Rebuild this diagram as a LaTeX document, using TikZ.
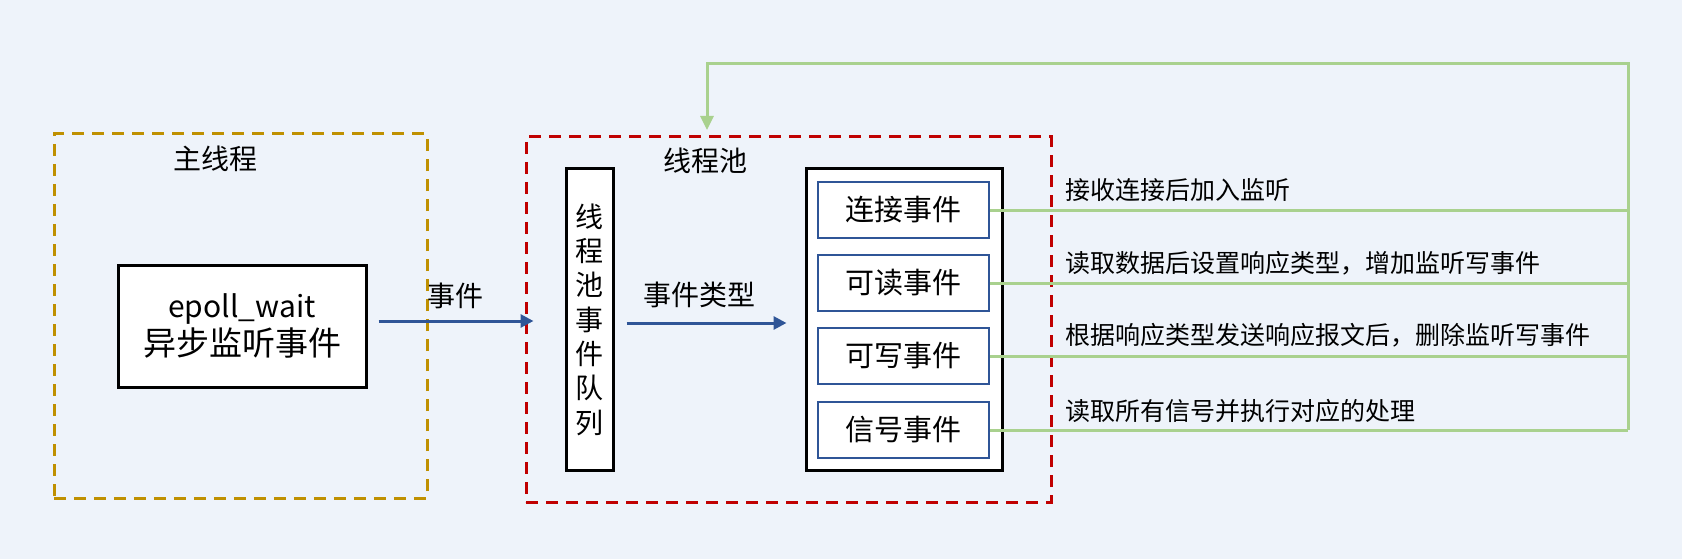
\documentclass[tikz,border=0pt]{standalone}
\usepackage{fontspec}
\setmainfont{Noto Sans CJK SC}
\usetikzlibrary{arrows.meta}
\definecolor{bg}{HTML}{EEF3FA}
\definecolor{gold}{HTML}{BF9000}
\definecolor{darkred}{HTML}{C00000}
\definecolor{myblue}{HTML}{2F5597}
\definecolor{mygreen}{HTML}{A9D18E}
\tikzset{
  dashbox/.style={draw, line width=3pt, dash pattern=on 12pt off 8pt, inner sep=0pt},
  blackbox/.style={draw=black, fill=white, line width=3pt, inner sep=0pt},
  evbox/.style={draw=myblue, fill=white, line width=2pt, inner sep=0pt, minimum width=171pt, minimum height=56pt, font=\fontsize{29}{34}\selectfont},
  ttl/.style={font=\fontsize{28}{33}\selectfont, inner sep=0pt},
  lbl/.style={font=\fontsize{25}{29}\selectfont, inner sep=0pt, anchor=west},
  bluearrow/.style={draw=myblue, line width=3pt, -{Triangle[length=13pt,width=13pt]}},
  greenline/.style={draw=mygreen, line width=3pt},
}
\begin{document}
\begin{tikzpicture}[x=1pt, y=-1pt]
\useasboundingbox[fill=bg] (0,0) rectangle (1682,559);
% main thread
\node[dashbox, draw=gold, minimum width=373pt, minimum height=364pt] (main) at (240.5,316) {};
\node[ttl] (maint) at (215,159) {主线程};
\node[blackbox, minimum width=248pt, minimum height=122pt, align=center, font=\fontsize{33}{38}\selectfont] (epoll) at (242,326) {{\fontsize{30}{38}\selectfont epoll\_wait}\\异步监听事件};
% thread pool
\node[dashbox, draw=darkred, minimum width=525pt, minimum height=365pt] (pool) at (788.5,319.5) {};
\node[ttl] (poolt) at (705,161) {线程池};
\node[blackbox, minimum width=47pt, minimum height=301pt, align=center, font=\fontsize{28}{34.3}\selectfont] (queue) at (589.5,319.5) {线\\程\\池\\事\\件\\队\\列};
\node[blackbox, minimum width=196pt, minimum height=301pt] (cont) at (904,319.5) {};
\node[evbox] (e1) at (903.5,210) {连接事件};
\node[evbox] (e2) at (903.5,283) {可读事件};
\node[evbox] (e3) at (903.5,356) {可写事件};
\node[evbox] (e4) at (903.5,430) {信号事件};
% arrows
\coordinate (a1s) at ([yshift=5pt]epoll.east);
\coordinate (a2s) at ([yshift=-3.5pt]queue.east);
\draw[bluearrow, shorten <=11pt, shorten >=31pt] (a1s) -- (queue.west |- a1s);
\node[ttl] (evl) at (455,296) {事件};
\draw[bluearrow, shorten <=12pt, shorten >=18pt] (a2s) -- (cont.west |- a2s);
\node[ttl] (typel) at (699,295) {事件类型};
% feedback lines
\coordinate (rt) at (1628,64);
\coordinate (rb) at (1628,430);
\coordinate (ptop) at (707,130);
\draw[greenline] (e1.east) -- (e1.east -| rt);
\draw[greenline] (e2.east) -- (e2.east -| rt);
\draw[greenline] (e3.east) -- (e3.east -| rt);
\draw[greenline] (e4.east) -- (rb);
\draw[greenline, -{Triangle[length=14pt,width=13pt]}] (rb) -- (rt) -- (rt -| ptop) -- (ptop);
\node[lbl] (l1) at (1065,190) {接收连接后加入监听};
\node[lbl] (l2) at (1065,263) {读取数据后设置响应类型，增加监听写事件};
\node[lbl] (l3) at (1065,335) {根据响应类型发送响应报文后，删除监听写事件};
\node[lbl] (l4) at (1065,411) {读取所有信号并执行对应的处理};
\end{tikzpicture}
\end{document}
